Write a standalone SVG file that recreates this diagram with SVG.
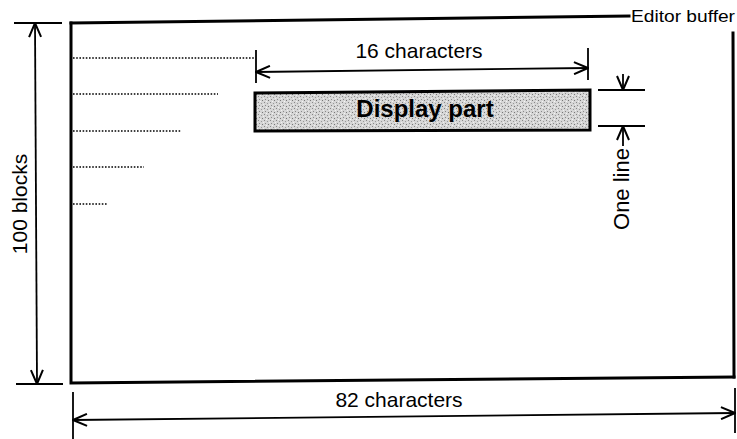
<svg xmlns="http://www.w3.org/2000/svg" width="737" height="439" viewBox="0 0 737 439">
  <style>
    .t { font-family: "Liberation Sans", Arial, sans-serif; fill: #000; }
    .frame { stroke: #000; stroke-width: 3; fill: none; stroke-linecap: square; }
    .dim { stroke: #000; stroke-width: 1.8; fill: none; }
    .dot { stroke: #000; stroke-width: 1.3; stroke-dasharray: 1.6 1.6; fill: none; }
  </style>
  <defs>
    <marker id="arr" viewBox="0 0 16 14" refX="15" refY="7" markerWidth="16" markerHeight="14" markerUnits="userSpaceOnUse" orient="auto-start-reverse">
      <path d="M1,1 L15,7 L1,13" stroke="#000" stroke-width="2" fill="none"/>
    </marker>
    <pattern id="stip" width="6" height="6" patternUnits="userSpaceOnUse">
      <rect width="6" height="6" fill="#d6d6d6"/>
      <rect x="0" y="0" width="1" height="1" fill="#888"/>
      <rect x="3" y="1" width="1" height="1" fill="#999"/>
      <rect x="1" y="3" width="1" height="1" fill="#8a8a8a"/>
      <rect x="4" y="4" width="1" height="1" fill="#777"/>
      <rect x="5" y="2" width="1" height="1" fill="#f0f0f0"/>
      <rect x="2" y="5" width="1" height="1" fill="#f4f4f4"/>
    </pattern>
  </defs>

  <g id="editor-buffer">
    <path class="frame" d="M71,23 L629,16"/>
    <path class="frame" d="M71,23 L71,383 L734,377"/>
    <path class="frame" d="M733,33 L734,377"/>
    <text class="t" x="631" y="22" font-size="17" textLength="104" lengthAdjust="spacingAndGlyphs">Editor buffer</text>
  </g>

  <g id="display-part">
    <path d="M255,93 L590,90 L590,130 L255,131 Z" fill="url(#stip)" stroke="#000" stroke-width="3"/>
    <text class="t" x="425" y="117" font-size="24" font-weight="bold" text-anchor="middle">Display part</text>
  </g>

  <g id="rows">
    <path class="dot" d="M73,58 H255"/>
    <path class="dot" d="M73,94 H218"/>
    <path class="dot" d="M73,131 H181"/>
    <path class="dot" d="M73,167 H144"/>
    <path class="dot" d="M73,204 H107"/>
  </g>

  <g id="connectors">
    <!-- 100 blocks -->
    <path class="dim" d="M14,23 H62"/>
    <path class="dim" d="M16,384 H63"/>
    <path class="dim" d="M35,23 L37,384" marker-start="url(#arr)" marker-end="url(#arr)"/>
    <!-- 82 characters -->
    <path class="dim" d="M73,392 V439"/>
    <path class="dim" d="M735,388 V433"/>
    <path class="dim" d="M73,420 L735,413" marker-start="url(#arr)" marker-end="url(#arr)"/>
    <!-- 16 characters -->
    <path class="dim" d="M256,50 V83"/>
    <path class="dim" d="M588,48 V80"/>
    <path class="dim" d="M256,72 L588,68" marker-start="url(#arr)" marker-end="url(#arr)"/>
    <!-- One line -->
    <path class="dim" d="M598,90 H645"/>
    <path class="dim" d="M598,126 H645"/>
    <path class="dim" d="M623,74 V90" marker-end="url(#arr)"/>
    <path class="dim" d="M623,146 V126" marker-end="url(#arr)"/>
  </g>

  <g id="labels">
    <text class="t" x="19" y="204" font-size="21" text-anchor="middle" dominant-baseline="central" transform="rotate(-90 19 204)">100 blocks</text>
    <text class="t" x="399" y="407" font-size="21" text-anchor="middle">82 characters</text>
    <text class="t" x="419" y="58" font-size="21" text-anchor="middle">16 characters</text>
    <text class="t" x="621" y="189" font-size="22" text-anchor="middle" dominant-baseline="central" transform="rotate(-90 621 189)">One line</text>
  </g>
</svg>
